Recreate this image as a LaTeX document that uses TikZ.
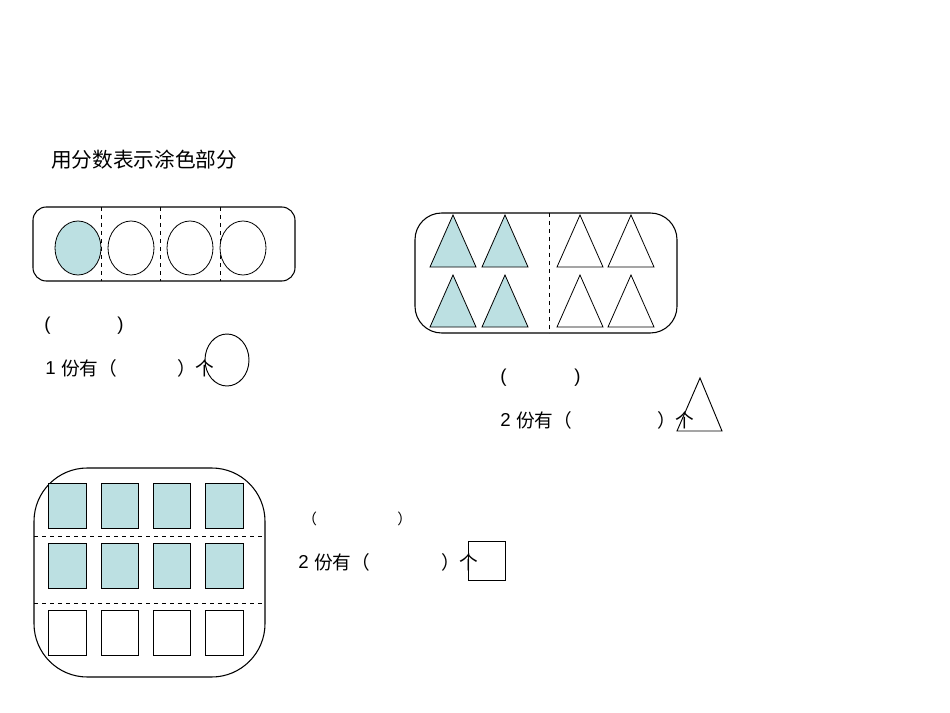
\documentclass[tikz,border=0pt]{standalone}
\usepackage{fontspec}
\setmainfont{Liberation Sans}
\newfontfamily\cjk{Noto Sans CJK SC}
\definecolor{fillb}{HTML}{BCE0E2}
\begin{document}
\begin{tikzpicture}[x=0.75pt,y=-0.75pt,
  lbl/.style={anchor=west,inner sep=0pt,font=\fontsize{14}{16}\selectfont},
  box/.style={draw,line width=0.8pt},
  sep/.style={draw,dashed,line width=0.6pt},
  fl/.style={draw,fill=fillb,line width=0.6pt},
  em/.style={draw,fill=white,line width=0.6pt}]
\useasboundingbox (0,0) rectangle (950,713);
\node[lbl,font=\fontsize{15.5}{18}\selectfont\cjk] (title) at (51,160) {用分数表示涂色部分};
% box 1
\draw[box,rounded corners=10] (33,207) rectangle (295,281);
\foreach \x in {101,160,220} \draw[sep] (\x,207) -- (\x,281);
\draw[fl] (78,248) ellipse [x radius=23,y radius=27];
\foreach \x in {131,190,243} \draw[em] (\x,248) ellipse [x radius=23,y radius=27];
\node[lbl] (p1a) at (44,326) {(};
\node[lbl] (p1b) at (117,326) {)};
\node[lbl] (n1) at (45,368) {1};
\node[lbl,font=\fontsize{14}{16}\selectfont\cjk] (t1) at (61,368) {份有（};
\node[lbl,font=\fontsize{14}{16}\selectfont\cjk] (t1b) at (177,368) {）个};
\draw[line width=0.7pt] (227,360) ellipse [x radius=22,y radius=26];
% box 2
\draw[box,rounded corners=20] (415,213) rectangle (677,333);
\draw[sep] (549,213) -- (549,333);
\foreach \x/\s in {453/fl,505/fl,580/em,631/em}
  \foreach \y in {215,275}
    \draw[\s] (\x,\y) -- (\x-23,\y+52) -- (\x+23,\y+52) -- cycle;
\node[lbl] (p2a) at (500,378) {(};
\node[lbl] (p2b) at (574,378) {)};
\node[lbl] (n2) at (500,420) {2};
\node[lbl,font=\fontsize{14}{16}\selectfont\cjk] (t2) at (516,420) {份有（};
\node[lbl,font=\fontsize{14}{16}\selectfont\cjk] (t2b) at (657,420) {）个};
\draw[line width=0.7pt] (700,378) -- (677,431) -- (722,431) -- cycle;
% box 3
\draw[box,rounded corners=40] (34,468) rectangle (265,677);
\draw[sep] (34,536) -- (265,536);
\draw[sep] (34,603) -- (265,603);
\foreach \x/\w in {48/38,101/37,153/37,205/38}{
  \draw[fl] (\x,483) rectangle ++(\w,45);
  \draw[fl] (\x,543) rectangle ++(\w,45);
  \draw[em] (\x,610) rectangle ++(\w,45);}
\node[lbl,font=\fontsize{11}{13}\selectfont\cjk] (p3a) at (302,519) {（};
\node[lbl,font=\fontsize{11}{13}\selectfont\cjk] (p3b) at (397,519) {）};
\node[lbl] (n3) at (298,562) {2};
\node[lbl,font=\fontsize{14}{16}\selectfont\cjk] (t3) at (314,562) {份有（};
\node[lbl,font=\fontsize{14}{16}\selectfont\cjk] (t3b) at (441,562) {）个};
\draw[line width=0.7pt] (468,541) rectangle (505,580);
\end{tikzpicture}
\end{document}
